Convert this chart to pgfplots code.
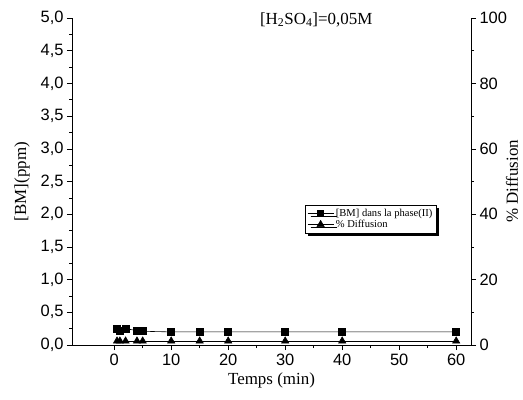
\documentclass[border=0pt]{standalone}
\usepackage{fontspec}
\setmainfont{Liberation Serif}
\setsansfont{Liberation Sans}
\usepackage{pgfplots}
\pgfplotsset{compat=1.18}
\usetikzlibrary{shadows}
\begin{document}
\begin{tikzpicture}[x=1bp,y=1bp]
\pgfplotsset{
  every axis/.style={
    width=399bp, height=327bp, scale only axis,
    xmin=-7.4, xmax=62.6,
    tick align=outside,
    major tick length=5bp, minor tick length=3bp,
    tick style={black, line width=0.6pt},
    axis line style={-, line width=0.7pt},
    tick label style={font=\sffamily\fontsize{16.5}{19}\selectfont},
    /pgf/number format/assume math mode=true,
    label style={font=\fontsize{17}{19}\selectfont},
  }
}
\begin{axis}[
  axis x line*=bottom, axis y line*=left,
  ymin=0, ymax=5,
  ytick={0,0.5,...,5.0},
  minor y tick num=1,
  xtick={0,10,20,30,40,50,60},
  minor x tick num=1,
  yticklabel style={/pgf/number format/.cd, fixed, fixed zerofill, precision=1, use comma},
  xlabel={Temps (min)},
  ylabel={[BM](ppm)},
  xlabel style={at={(axis description cs:0.5,-0.107)}, anchor=center},
  ylabel style={at={(axis description cs:-0.125,0.5)}, anchor=center},
  clip=false,
]
\coordinate (SW) at (rel axis cs:0,0);
\coordinate (NE) at (rel axis cs:1,1);
\addplot[black, line width=0.6pt, mark=square*, mark size=3.5pt] coordinates {
  (0.5,0.25) (1,0.21) (2,0.25) (4,0.22) (5,0.21) (10,0.20) (15,0.20) (20,0.20) (30,0.20) (40,0.20) (60,0.20)
};
\node[font=\fontsize{17}{19}\selectfont, anchor=center] at (axis description cs:0.612,0.995) {[H\textsubscript{2}SO\textsubscript{4}]=0,05M};
\end{axis}
\begin{axis}[
  axis y line*=right, axis x line=none,
  ymin=0, ymax=100,
  ytick={0,20,40,60,80,100},
  minor y tick num=1,
  ylabel={\% Diffusion},
  ylabel style={at={(axis description cs:1.103,0.5)}, anchor=center},
  legend style={at={(axis description cs:0.584,0.428)}, anchor=north west,
    draw=black, line width=0.6pt, fill=white,
    drop shadow={shadow xshift=3bp, shadow yshift=-3bp, fill=black, opacity=1},
    font=\fontsize{10.6}{12}\selectfont, row sep=-2bp, inner sep=2bp},
  legend cell align=left,
  legend image code/.code={\draw[mark repeat=2, mark phase=2, #1] plot coordinates {(0bp,0bp) (13bp,0bp) (26bp,0bp)};},
  clip=false,
]
\addlegendimage{black, line width=0.6pt, mark=square*, mark size=3pt}
\addlegendentry{[BM] dans la phase(II)}
\addplot[black, line width=0.6pt, mark=triangle*, mark size=4.2pt] coordinates {
  (0.5,1.2) (1,1.2) (2,1.2) (4,1.2) (5,1.2) (10,1.2) (15,1.2) (20,1.2) (30,1.2) (40,1.2) (60,1.2)
};
\addlegendentry{\% Diffusion}
\end{axis}
\pgfresetboundingbox
\path ([shift={(-72bp,-54bp)}]SW) rectangle ([shift={(52bp,18bp)}]NE);
\end{tikzpicture}
\end{document}
